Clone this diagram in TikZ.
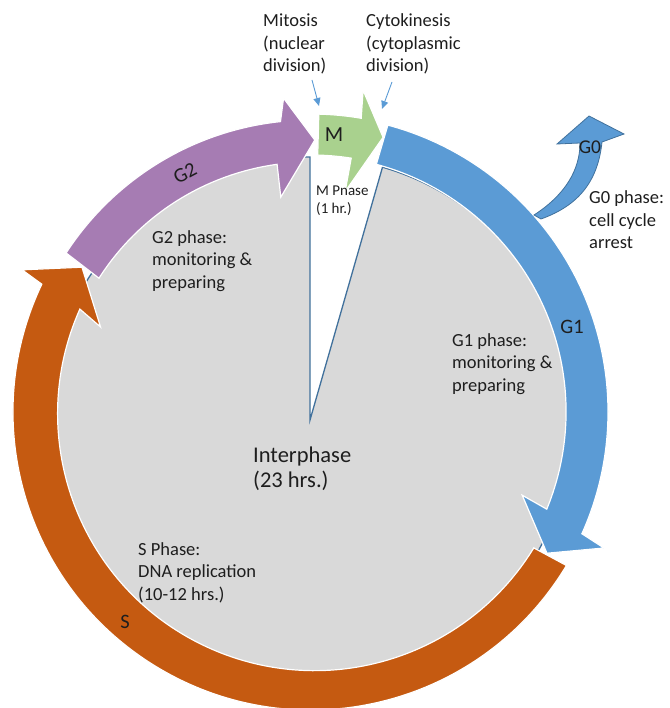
\documentclass[tikz,border=0pt]{standalone}
\usepackage{fontspec}
\setmainfont{Carlito}
\usetikzlibrary{arrows.meta, positioning}

\definecolor{gonecolor}{HTML}{5B9BD5}
\definecolor{scolor}{HTML}{C55A11}
\definecolor{gtwocolor}{HTML}{A67CB3}
\definecolor{mcolor}{HTML}{A9D18E}
\definecolor{cellgray}{HTML}{D9D9D9}
\definecolor{edgeblue}{HTML}{41719C}
\definecolor{inkcolor}{HTML}{1E1E1E}

\begin{document}
\begin{tikzpicture}[
  x=1pt, y=1pt,
  >={Triangle[length=8pt, width=7pt]},
  ring/.style    = {draw=white, line width=1.2pt, line join=miter},
  note/.style    = {anchor=base west, align=left, inner sep=0pt, text=inkcolor,
                    font=\fontsize{18.5}{22.5}\selectfont},
  tag/.style     = {inner sep=0pt, text=inkcolor, font=\fontsize{20.5}{24}\selectfont},
  pointer/.style = {->, draw=gonecolor, line width=0.9pt},
]
  \useasboundingbox (0,0) rectangle (669,-708);

  \coordinate (pie) at (310,-420);
  \coordinate (hub) at (311,-412);

  % pie: interphase slice, the M slice stays white
  \filldraw[fill=cellgray, draw=edgeblue, line width=1.3pt]
    (pie) -- ++(90:263) arc[start angle=90, end angle=434, radius=263] -- cycle;

  % phase arrows round the ring
  \begin{scope}[shift={(hub)}]
    \filldraw[ring, fill=scolor]
      (-31:298) arc[start angle=-31, end angle=-205.4, radius=298]
      -- (-206.2:322) -- (-212.3:271) -- (-202:227) -- (-204:253)
      arc[start angle=-204, end angle=-31.5, radius=257] -- cycle;
    \filldraw[ring, fill=gtwocolor]
      (147:292) arc[start angle=147, end angle=96, radius=292]
      -- (95:315) -- (89.2:272) -- (98:217) -- (97.8:250)
      arc[start angle=97.8, end angle=147.4, radius=252] -- cycle;
    \filldraw[ring, fill=gonecolor]
      (75:297) arc[start angle=75, end angle=-24.2, radius=297]
      -- (-24.9:323) -- (-30.9:275) -- (-21.5:227) -- (-22.4:255)
      arc[start angle=-22.4, end angle=75, radius=256] -- cycle;
    \filldraw[ring, fill=mcolor]
      (88.5:298) arc[start angle=88.5, end angle=80.3, radius=298]
      -- (80.8:326) -- (75.3:284) -- (81.2:223) -- (81:257)
      arc[start angle=81, end angle=88.5, radius=257] -- cycle;
  \end{scope}

  % G0 exit arrow
  \filldraw[fill=gonecolor, draw=edgeblue, line width=0.8pt]
    (534,-215) .. controls (565,-195) and (580,-170) .. (580,-143)
    -- (557,-144) -- (589,-116) -- (624,-134) -- (602,-142)
    .. controls (598,-180) and (580,-205) .. (541,-219) -- cycle;

  % labels on the arrows
  \node[tag, font=\fontsize{21.5}{24}\selectfont] (m) at (334,-135) {M};
  \node[tag, rotate=28]                        (g2) at (185,-173) {G2};
  \node[tag]                                   (g1) at (572,-327) {G1};
  \node[tag]                                   (s)  at (125,-622) {S};
  \node[tag, font=\fontsize{19.5}{24}\selectfont] (g0) at (590,-147) {G0};

  % notes (placed at the baseline of their last line)
  \node[note] (mitosis) at (263,-72)  {Mitosis\\(nuclear\\division)};
  \node[note] (cyto)    at (366,-72)  {Cytokinesis\\(cytoplasmic\\division)};
  \node[note, font=\fontsize{15}{18}\selectfont] (mnote) at (316,-214) {M Pnase\\(1 hr.)};
  \node[note] (g2note)  at (152,-288) {G2 phase:\\monitoring \&\\preparing};
  \node[note] (g0note)  at (589,-249) {G0 phase:\\cell cycle\\arrest};
  \node[note] (g1note)  at (452,-391) {G1 phase:\\monitoring \&\\preparing};
  \node[note, font=\fontsize{22.5}{25}\selectfont] (inter) at (253,-487) {Interphase\\(23 hrs.)};
  \node[note] (snote)   at (138,-600) {S Phase:\\DNA replication\\(10-12 hrs.)};

  % pointers to the M arrow
  \coordinate (mitfrom) at (312,-80);
  \coordinate (mitto)   at (319,-106);
  \coordinate (cytfrom) at (392,-82);
  \coordinate (cytto)   at (382,-109);
  \draw[pointer] (mitfrom) -- (mitto);
  \draw[pointer] (cytfrom) -- (cytto);
\end{tikzpicture}
\end{document}
